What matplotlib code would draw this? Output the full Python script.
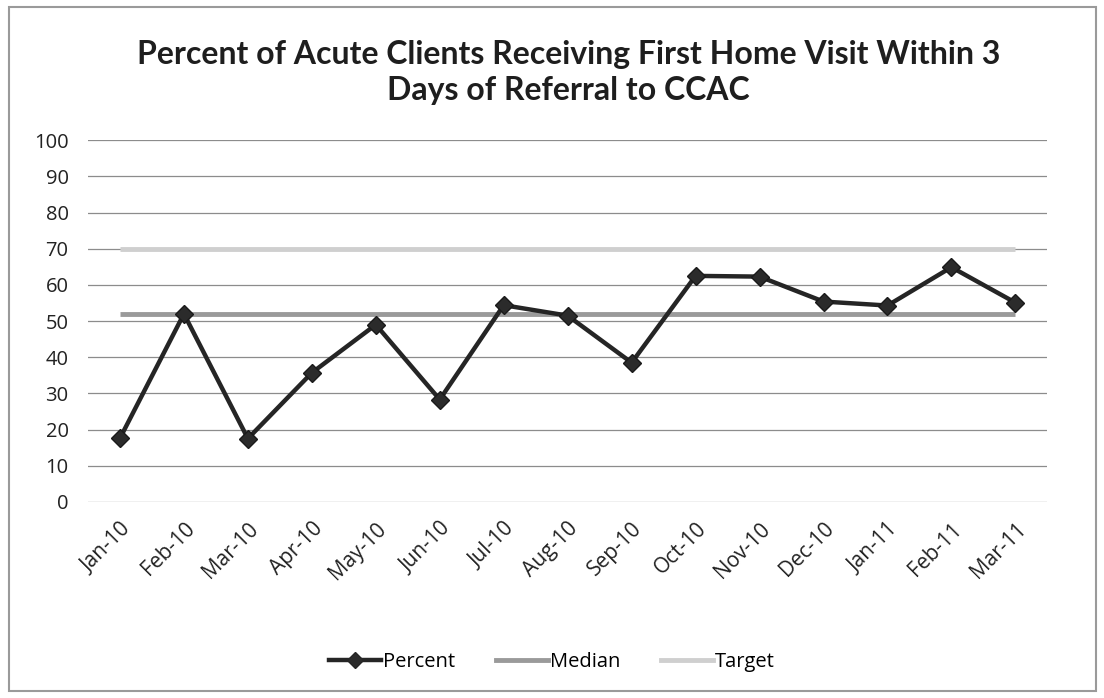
import matplotlib
matplotlib.use("Agg")
import matplotlib.pyplot as plt
from matplotlib.lines import Line2D
from matplotlib.patches import Rectangle

months = ["Jan-10", "Feb-10", "Mar-10", "Apr-10", "May-10", "Jun-10", "Jul-10",
          "Aug-10", "Sep-10", "Oct-10", "Nov-10", "Dec-10", "Jan-11", "Feb-11", "Mar-11"]
percent = [17.6, 52, 17.5, 35.7, 49, 28.3, 54.4, 51.5, 38.5, 62.5, 62.3, 55.4, 54.3, 64.9, 55.1]
median = [52, 52, 52, 52, 52, 52, 52, 52, 52, 52, 52, 52, 52, 52, 52]
target = [70, 70, 70, 70, 70, 70, 70, 70, 70, 70, 70, 70, 70, 70, 70]
y_ticks = [0, 10, 20, 30, 40, 50, 60, 70, 80, 90, 100]
title = "Percent of Acute Clients Receiving First Home Visit Within 3\nDays of Referral to CCAC"

plt.rcParams['font.family'] = ['Open Sans', 'DejaVu Sans']

fig = plt.figure(figsize=(11.04, 6.98), dpi=100)
fig.patches.append(Rectangle((0.008, 0.01), 0.985, 0.98, transform=fig.transFigure,
                             fill=False, edgecolor="#9a9a9a", linewidth=1.5))

ax = fig.add_axes([0.0797, 0.281, 0.869, 0.518])
x = list(range(len(months)))

for yv in y_ticks:
    ax.axhline(yv, color="#8c8c8c", linewidth=0.9, zorder=1)

ax.plot(x, target, color="#cfcfcf", linewidth=3.5, solid_capstyle="butt", zorder=2, label="Target")
ax.plot(x, median, color="#9a9a9a", linewidth=3.5, solid_capstyle="butt", zorder=3, label="Median")
ax.plot(x, percent, color="#252525", linewidth=3.2, marker="D", markersize=9,
        markerfacecolor="#2b2b2b", markeredgecolor="#1a1a1a", zorder=4, label="Percent")

ax.set_xlim(-0.5, 14.5)
ax.set_ylim(0, 100)
ax.set_yticks(y_ticks)
ax.set_yticklabels([str(v) for v in y_ticks], fontsize=14.5, color="#222222")
ax.set_xticks(x)
ax.set_xticklabels(months, rotation=45, ha="right", rotation_mode="anchor",
                   fontsize=15, color="#222222")
ax.tick_params(axis="y", length=0, pad=14)
ax.tick_params(axis="x", length=0, pad=12)
for s in ax.spines.values():
    s.set_visible(False)

fig.text(0.515, 0.896, title, ha="center", va="center", fontsize=23, fontweight="bold",
         color="#1e1e1e", linespacing=1.3, family=["Lato", "DejaVu Sans"])

handles = [
    Line2D([0], [0], color="#252525", linewidth=3.2, marker="D", markersize=8,
           markerfacecolor="#2b2b2b"),
    Line2D([0], [0], color="#9a9a9a", linewidth=3.5),
    Line2D([0], [0], color="#cfcfcf", linewidth=3.5),
]
fig.legend(handles, ["Percent", "Median", "Target"], loc="center", bbox_to_anchor=(0.5, 0.052),
           ncol=3, frameon=False, fontsize=14.5, handlelength=2.6, handletextpad=0.1,
           columnspacing=2.0)

fig.savefig("out.png", dpi=100)
